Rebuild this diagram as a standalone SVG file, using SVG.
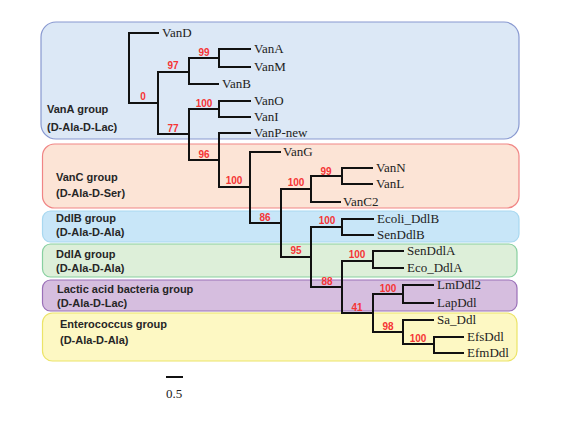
<svg xmlns="http://www.w3.org/2000/svg" width="570" height="424" viewBox="0 0 570 424">
<style>
.grp{font-family:"Liberation Sans",Arial,sans-serif;font-size:11px;font-weight:bold;fill:#262626}
.leaf{font-family:"Liberation Serif","Times New Roman",serif;font-size:13px;fill:#222}
.bs{font-family:"Liberation Sans",Arial,sans-serif;font-size:10px;font-weight:bold;fill:#f53535;text-anchor:middle}
.tree path{fill:none;stroke:#111;stroke-width:2;stroke-linecap:square}
</style>
<rect width="570" height="424" fill="#fff"/>
<g id="vanA-group">
<rect x="41" y="22" width="478" height="117" rx="15" fill="#dce8f6" stroke="#8898d0" stroke-width="1.2"/>
<text class="grp" x="47" y="113">VanA group</text>
<text class="grp" x="47" y="131">(D-Ala-D-Lac)</text>
</g>
<g id="vanC-group">
<rect x="42.5" y="144" width="476.5" height="64" rx="12" fill="#fce4d6" stroke="#f08585" stroke-width="1.2"/>
<text class="grp" x="56" y="181">VanC group</text>
<text class="grp" x="56" y="197">(D-Ala-D-Ser)</text>
</g>
<g id="ddlB-group">
<rect x="42.5" y="211" width="476.5" height="31" rx="8" fill="#c8e6f8" stroke="#a8d8f0" stroke-width="1.2"/>
<text class="grp" x="56" y="222">DdlB group</text>
<text class="grp" x="56" y="236">(D-Ala-D-Ala)</text>
</g>
<g id="ddlA-group">
<rect x="42.5" y="244" width="474.5" height="33" rx="8" fill="#ddefd9" stroke="#88d0a0" stroke-width="1.2"/>
<text class="grp" x="56" y="258">DdlA group</text>
<text class="grp" x="56" y="272">(D-Ala-D-Ala)</text>
</g>
<g id="lactic-group">
<rect x="42.5" y="280" width="474.5" height="31" rx="8" fill="#d6bedf" stroke="#9a70b8" stroke-width="1.2"/>
<text class="grp" x="57" y="293">Lactic acid bacteria group</text>
<text class="grp" x="57" y="307">(D-Ala-D-Lac)</text>
</g>
<g id="enterococcus-group">
<rect x="42.5" y="313" width="474.5" height="48" rx="10" fill="#fdf8c3" stroke="#ece468" stroke-width="1.2"/>
<text class="grp" x="60" y="328">Enterococcus group</text>
<text class="grp" x="60" y="344">(D-Ala-D-Ala)</text>
</g>
<g id="connectors" class="tree">
<path d="M158,33 H129 V103 H158"/>
<path d="M158,72 V134 H189"/>
<path d="M158,72 H189"/>
<path d="M189,58 V84 H218"/>
<path d="M189,58 H219"/>
<path d="M250,49 H219 V67 H250"/>
<path d="M189,109 V160 H219"/>
<path d="M189,109 H219"/>
<path d="M250,101 H219 V117 H250"/>
<path d="M250,133 H219 V187 H250"/>
<path d="M280,152 H250 V223 H281"/>
<path d="M281,189 V257 H311"/>
<path d="M281,189 H311"/>
<path d="M340,202 H311 V176 H342"/>
<path d="M372,168 H342 V184 H372"/>
<path d="M311,227 V287 H342"/>
<path d="M311,227 H342"/>
<path d="M373,219 H342 V235 H373"/>
<path d="M342,261 V313 H373"/>
<path d="M342,261 H373"/>
<path d="M403,251 H373 V268 H403"/>
<path d="M373,294 V332 H403"/>
<path d="M373,294 H403"/>
<path d="M433,285 H403 V303 H433"/>
<path d="M433,320 H403 V344 H434"/>
<path d="M463,337 H434 V353 H463"/>
<path d="M167,377 H182"/>
</g>
<g id="leaves">
<text class="leaf" x="162" y="37">VanD</text>
<text class="leaf" x="254" y="53">VanA</text>
<text class="leaf" x="254" y="71">VanM</text>
<text class="leaf" x="222" y="88">VanB</text>
<text class="leaf" x="254" y="105">VanO</text>
<text class="leaf" x="254" y="121">VanI</text>
<text class="leaf" x="254" y="137">VanP-new</text>
<text class="leaf" x="283" y="156">VanG</text>
<text class="leaf" x="376" y="172">VanN</text>
<text class="leaf" x="376" y="188">VanL</text>
<text class="leaf" x="343" y="206">VanC2</text>
<text class="leaf" x="377" y="223">Ecoli_DdlB</text>
<text class="leaf" x="377" y="239">SenDdlB</text>
<text class="leaf" x="407" y="255">SenDdlA</text>
<text class="leaf" x="407" y="272">Eco_DdlA</text>
<text class="leaf" x="437" y="289">LmDdl2</text>
<text class="leaf" x="437" y="307">LapDdl</text>
<text class="leaf" x="437" y="324">Sa_Ddl</text>
<text class="leaf" x="467" y="341">EfsDdl</text>
<text class="leaf" x="467" y="357">EfmDdl</text>
<text class="leaf" x="174" y="398" text-anchor="middle">0.5</text>
</g>
<g id="bootstrap">
<text class="bs" x="204" y="56">99</text>
<text class="bs" x="173" y="69">97</text>
<text class="bs" x="143" y="100">0</text>
<text class="bs" x="204" y="107">100</text>
<text class="bs" x="173" y="132">77</text>
<text class="bs" x="204" y="158">96</text>
<text class="bs" x="234" y="184">100</text>
<text class="bs" x="326" y="175">99</text>
<text class="bs" x="296" y="186">100</text>
<text class="bs" x="265" y="221">86</text>
<text class="bs" x="327" y="224">100</text>
<text class="bs" x="296" y="254">95</text>
<text class="bs" x="357" y="258">100</text>
<text class="bs" x="327" y="285">88</text>
<text class="bs" x="357" y="311">41</text>
<text class="bs" x="388" y="292">100</text>
<text class="bs" x="388" y="330">98</text>
<text class="bs" x="418" y="342">100</text>
</g>
</svg>
